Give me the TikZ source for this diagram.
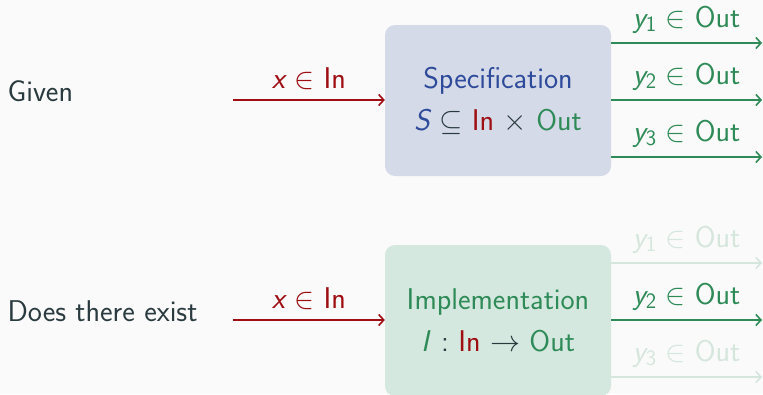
\RequirePackage{fix-cm}
\documentclass[tikz,border=0pt]{standalone}
\usetikzlibrary{arrows.meta}
\definecolor{bg}{HTML}{FAFAFA}
\definecolor{ink}{HTML}{2A3B40}
\definecolor{specblue}{HTML}{2E4A9A}
\definecolor{specfill}{HTML}{D5DAE8}
\definecolor{implfill}{HTML}{D5E8DF}
\definecolor{outgreen}{HTML}{2E8B57}
\definecolor{inred}{HTML}{9E0E12}
\colorlet{fadegreen}{outgreen!18!bg}
\newcommand{\vx}{{\slshape x}}
\newcommand{\vy}[1]{{\slshape y}\raisebox{-4.5pt}{\fontsize{22}{22}\selectfont\upshape #1}}
\tikzset{
  box/.style={rounded corners=10pt, minimum width=226pt, minimum height=151pt, align=center,
    font=\fontsize{30}{42}\selectfont\sffamily},
  inarrow/.style={draw=inred, line width=1.6pt, -{Straight Barb[length=5pt,width=11pt]}},
  outarrow/.style={draw=outgreen, line width=1.6pt, -{Straight Barb[length=5pt,width=11pt]}},
  fadearrow/.style={draw=fadegreen, line width=1.6pt, -{Straight Barb[length=5pt,width=11pt]}},
  inlbl/.style={midway, anchor=base, yshift=12pt, inner sep=1pt},
  outlbl/.style={midway, anchor=base, yshift=16pt, inner sep=1pt},
  side/.style={anchor=base west, text=ink},
}
\begin{document}
\begin{tikzpicture}[x=1pt,y=-1pt, font=\fontsize{30}{36}\selectfont\sffamily]
\fill[bg] (0,0) rectangle (763,394);
\useasboundingbox (0,0) rectangle (763,394);

\node[side] (given) at (4,101.5) {Given};
\node[side] (exist) at (4,321.5) {Does there exist};

\node[box, fill=specfill, text=specblue] (spec) at (498,100.5)
  {Specification\\ {\slshape S} {\color{ink}$\subseteq$} {\color{inred}In} {\color{ink}$\times$} {\color{outgreen}Out}};
\node[box, fill=implfill, text=outgreen] (impl) at (498,320.5)
  {Implementation\\ {\slshape I}\hspace{0.1em} {\color{ink}:} {\color{inred}In} {\color{ink}$\rightarrow$} Out};

\coordinate (i1) at (233,100);
\coordinate (i2) at (233,320);
\draw[inarrow] (i1) -- (spec.west |- i1) node[inlbl, text=inred] {\vx{} $\in$ In};
\draw[inarrow] (i2) -- (impl.west |- i2) node[inlbl, text=inred] {\vx{} $\in$ In};

\coordinate (a1) at (762,43);
\coordinate (a2) at (762,100);
\coordinate (a3) at (762,157);
\draw[outarrow] (spec.east |- a1) -- (a1) node[outlbl, text=outgreen] {\vy{1} $\in$ Out};
\draw[outarrow] (spec.east |- a2) -- (a2) node[outlbl, text=outgreen] {\vy{2} $\in$ Out};
\draw[outarrow] (spec.east |- a3) -- (a3) node[outlbl, text=outgreen] {\vy{3} $\in$ Out};

\coordinate (b1) at (762,263);
\coordinate (b2) at (762,320);
\coordinate (b3) at (762,377);
\draw[fadearrow] (impl.east |- b1) -- (b1) node[outlbl, text=fadegreen] {\vy{1} $\in$ Out};
\draw[outarrow] (impl.east |- b2) -- (b2) node[outlbl, text=outgreen] {\vy{2} $\in$ Out};
\draw[fadearrow] (impl.east |- b3) -- (b3) node[outlbl, text=fadegreen] {\vy{3} $\in$ Out};
\end{tikzpicture}
\end{document}
